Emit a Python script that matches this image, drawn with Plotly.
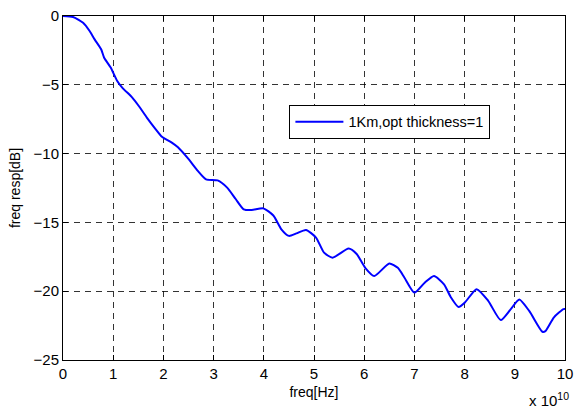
import plotly.graph_objects as go

# frequency in units of 1e10 Hz
freq = [0, 0.2, 0.4, 0.53, 0.63, 0.76, 0.82, 0.95, 1.08, 1.18, 1.38, 1.51, 1.67, 1.84, 1.97,
        2.16, 2.29, 2.49, 2.69, 2.85, 3.08, 3.27, 3.44, 3.6, 3.76, 3.99, 4.19, 4.35, 4.5,
        4.65, 4.84, 5.04, 5.2, 5.37, 5.69, 5.85, 6.02, 6.2, 6.5, 6.67, 6.8, 7.0, 7.2, 7.39,
        7.59, 7.72, 7.88, 8.01, 8.24, 8.47, 8.72, 8.92, 9.09, 9.29, 9.55, 9.61, 9.78, 9.97, 10]
resp = [0, -0.07, -0.49, -1.09, -1.7, -2.42, -3.03, -3.75, -4.72, -5.2, -5.93, -6.54, -7.38,
        -8.2, -8.77, -9.18, -9.54, -10.35, -11.27, -11.87, -11.95, -12.47, -13.3, -14.05,
        -14.1, -13.98, -14.5, -15.5, -15.98, -15.8, -15.55, -16.1, -17.2, -17.56, -16.9,
        -17.3, -18.3, -18.9, -17.98, -18.3, -19.0, -20.1, -19.4, -18.9, -19.5, -20.4,
        -21.15, -20.8, -19.85, -20.7, -22.1, -21.3, -20.6, -21.45, -22.95, -22.9, -21.9,
        -21.3, -21.3]

x_ticks = list(range(0, 11))
y_ticks = [0, -5, -10, -15, -20, -25]
series_name = "1Km,opt thickness=1"

font = "Liberation Sans, Arial, sans-serif"

fig = go.Figure()
fig.add_trace(go.Scatter(x=freq, y=resp, mode="lines", name=series_name,
                         line=dict(color="#0000ff", width=2, shape="spline", smoothing=0.6)))

axis_common = dict(showline=True, linecolor="black", linewidth=1, mirror="ticks",
                   ticks="inside", ticklen=5, tickcolor="black",
                   showgrid=True, gridcolor="rgba(0,0,0,0.8)", gridwidth=1,
                   griddash="6px,5px", zeroline=False, ticklabeloverflow="allow",
                   tickfont=dict(family=font, size=15, color="black"))

fig.update_layout(
    width=580, height=412,
    margin=dict(l=63, r=7, t=15, b=52),
    paper_bgcolor="white", plot_bgcolor="white",
    font=dict(family=font, color="black"),
    xaxis=dict(range=[0, 10], tickvals=x_ticks, **axis_common,
               title=dict(text="freq[Hz]", font=dict(family=font, size=14), standoff=6)),
    yaxis=dict(range=[-25, 0], tickvals=y_ticks, **axis_common,
               title=dict(text="freq resp[dB]", font=dict(family=font, size=14), standoff=9)),
    showlegend=True,
    legend=dict(x=0.451, y=0.742, xanchor="left", yanchor="top",
                bgcolor="white", bordercolor="black", borderwidth=1,
                itemwidth=48, entrywidth=160, entrywidthmode="pixels",
                font=dict(family=font, size=14.5, color="black")),
    annotations=[dict(text="x 10<sup>10</sup>", xref="paper", yref="paper",
                      x=1.012, y=-0.148, xanchor="right", yanchor="bottom", showarrow=False,
                      font=dict(family=font, size=15, color="black"))],
)

fig.write_html("out.html")
